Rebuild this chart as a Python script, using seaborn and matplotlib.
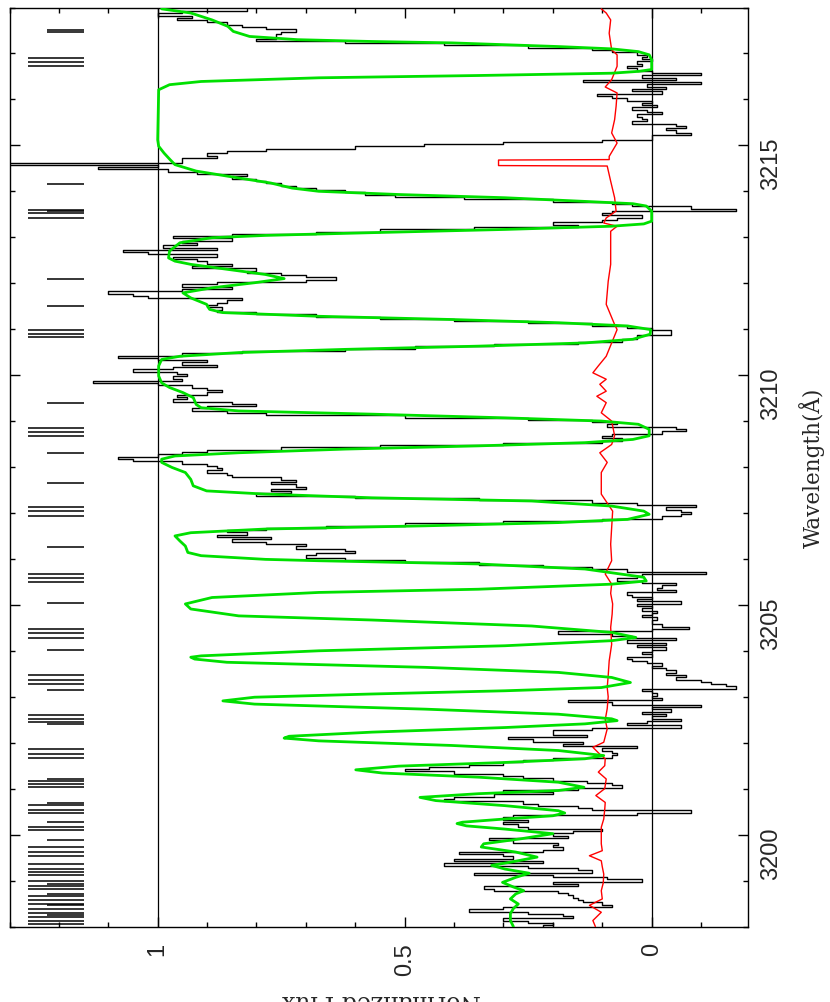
import numpy as np
import matplotlib
matplotlib.use('Agg')
import matplotlib.pyplot as plt
from matplotlib.ticker import MultipleLocator
import seaborn as sns

# observed spectrum, 0.05 A pixels starting at 3198.00
wave_start = 3198.0
pix = 0.05
flux_a = [0.22, 0.20, 0.25, 0.30, 0.16, 0.18, 0.25, 0.37, 0.30, 0.08,
          0.10, 0.14, 0.15, 0.16, 0.17, 0.19, 0.32, 0.34, 0.15, 0.20,
          0.02, 0.09, 0.20, 0.36, 0.12, 0.15, 0.25, 0.42, 0.22, 0.40,
          0.28, 0.30, 0.39, 0.22, 0.18, 0.20, 0.19, 0.28, 0.33, 0.17,
          0.20, 0.16, 0.10, 0.25, 0.27, 0.30, 0.25, 0.30, 0.28, 0.03,
          -0.08, 0.12, 0.15, 0.23, 0.26, 0.42, 0.40, 0.32, 0.20, 0.30,
          0.15, 0.06, 0.08, 0.13, 0.20, 0.26, 0.30, 0.40, 0.50, 0.45,
          0.37, 0.30, 0.26, 0.20, 0.08, 0.07, 0.08, 0.10, 0.03, 0.18,
          0.14, 0.24, 0.29, 0.13, 0.20, 0.20, 0.12, -0.06, 0.05, 0.01,
          -0.06, 0.00, -0.03, 0.02, -0.04, 0.00, -0.10, 0.08, 0.17, -0.02]
flux_b = [0.00, -0.01, 0.00, 0.02, -0.17, -0.15, -0.12, -0.10, -0.05, -0.07,
          -0.03, -0.05, -0.03, 0.00, -0.02, 0.01, 0.04, 0.05, 0.00, 0.02,
          0.00, -0.03, 0.03, -0.03, 0.05, -0.05, 0.04, 0.08, 0.19, 0.00,
          -0.075, -0.02, 0.00, 0.00, -0.01, 0.02, 0.00, -0.01, 0.02, 0.00,
          0.03, -0.06, 0.03, 0.00, 0.04, 0.05, -0.05, -0.01, -0.02, -0.05,
          0.02, 0.07, 0.03, 0.02, -0.11, 0.05, 0.12, 0.22, 0.35, 0.50,
          0.62, 0.70, 0.68, 0.60, 0.62, 0.72, 0.70, 0.78, 0.85, 0.77,
          0.88, 0.82, 0.86, 0.78, 0.66, 0.50, 0.30, 0.10, -0.02, -0.06,
          -0.08, -0.06, -0.03, -0.09, 0.03, 0.12, 0.35, 0.60, 0.80, 0.73,
          0.77, 0.70, 0.72, 0.77, 0.72, 0.75, 0.85, 0.86, 0.90, 0.87]
flux_c = [0.88, 0.90, 0.95, 1.05, 1.08, 1.00, 0.95, 0.90, 0.75, 0.55,
          0.30, 0.10, 0.06, 0.10, 0.08, -0.02, -0.07, -0.05, 0.09, 0.07,
          0.12, 0.25, 0.50, 0.78, 0.86, 0.93, 0.90, 0.80, 0.85, 0.97,
          0.94, 0.96, 0.90, 0.87, 0.90, 0.93, 1.00, 1.13, 0.95, 0.97,
          0.94, 0.96, 1.05, 0.97, 0.88, 0.95, 0.90, 1.00, 1.08, 0.95,
          0.83, 0.62, 0.48, 0.32, 0.15, 0.06, 0.03, 0.03, -0.04, -0.04,
          0.00, 0.05, 0.12, 0.25, 0.40, 0.55, 0.68, 0.80, 0.88, 0.87,
          0.90, 0.88, 0.86, 0.83, 1.02, 1.05, 1.10, 0.95, 0.85, 0.95,
          0.88, 0.70, 0.64, 0.70, 0.75, 0.82, 0.80, 0.93, 0.85, 0.90,
          0.92, 0.97, 0.88, 1.02, 1.07, 0.88, 0.99, 0.92, 0.95, 0.85]
flux_d = [0.97, 0.85, 0.68, 0.55, 0.36, 0.15, 0.20, 0.10, 0.07, 0.02,
          0.10, 0.08, -0.17, -0.08, 0.04, 0.08, 0.20, 0.38, 0.52, 0.58,
          0.62, 0.68, 0.72, 0.75, 0.78, 0.80, 0.85, 0.82, 0.92, 0.98,
          1.12, 1.00, 1.35, 0.95, 0.95, 0.88, 0.90, 0.86, 0.78, 0.60,
          0.46, 0.30, 0.10, 0.00, 0.00, -0.08, -0.05, -0.03, -0.07, -0.05,
          0.04, 0.01, 0.02, 0.03, -0.02, 0.01, 0.04, -0.01, 0.02, 0.00,
          0.05, 0.08, 0.11, -0.02, 0.04, -0.03, 0.01, -0.10, 0.14, -0.05,
          0.02, -0.10, 0.00, 0.03, 0.05, 0.02, 0.03, 0.00, 0.02, 0.01,
          0.03, 0.08, 0.12, 0.25, 0.42, 0.62, 0.80, 0.76, 0.76, 0.75,
          0.72, 0.78, 0.83, 0.86, 0.90, 0.96, 0.93, 1.00, 0.95, 0.82]

# fitted model
model_wave = [3198.00, 3198.13, 3198.28, 3198.39, 3198.49, 3198.60, 3198.71, 3198.78, 3198.86, 3198.96,
              3199.07, 3199.16, 3199.25, 3199.33, 3199.40, 3199.51, 3199.62, 3199.73, 3199.80, 3199.91,
              3200.02, 3200.12, 3200.19, 3200.24, 3200.27, 3200.34, 3200.41, 3200.47, 3200.52, 3200.63,
              3200.74, 3200.81, 3200.89, 3200.96, 3201.03, 3201.14, 3201.25, 3201.34, 3201.41, 3201.49,
              3201.57, 3201.65, 3201.72, 3201.83, 3201.94, 3202.04, 3202.10, 3202.14, 3202.23, 3202.33,
              3202.41, 3202.48, 3202.52, 3202.62, 3202.73, 3202.84, 3202.91, 3202.99, 3203.06, 3203.13,
              3203.20, 3203.31, 3203.42, 3203.53, 3203.64, 3203.75, 3203.82, 3203.86, 3203.89, 3204.00,
              3204.11, 3204.22, 3204.29, 3204.40, 3204.54, 3204.67, 3204.76, 3204.91, 3205.02, 3205.16,
              3205.27, 3205.34, 3205.45, 3205.52, 3205.60, 3205.78, 3205.89, 3205.96, 3205.99, 3206.07,
              3206.14, 3206.28, 3206.39, 3206.50, 3206.57, 3206.65, 3206.72, 3206.79, 3206.86, 3206.97,
              3207.04, 3207.15, 3207.26, 3207.33, 3207.41, 3207.48, 3207.59, 3207.73, 3207.88, 3207.99,
              3208.10, 3208.17, 3208.24, 3208.31, 3208.39, 3208.46, 3208.53, 3208.60, 3208.68, 3208.82,
              3208.93, 3209.00, 3209.07, 3209.15, 3209.22, 3209.29, 3209.36, 3209.51, 3209.62, 3209.73,
              3209.83, 3209.98, 3210.20, 3210.34, 3210.41, 3210.49, 3210.56, 3210.63, 3210.70, 3210.78,
              3210.89, 3210.99, 3211.07, 3211.14, 3211.21, 3211.28, 3211.36, 3211.43, 3211.54, 3211.68,
              3211.79, 3211.90, 3212.01, 3212.10, 3212.19, 3212.30, 3212.41, 3212.48, 3212.55, 3212.70,
              3212.88, 3212.99, 3213.04, 3213.10, 3213.17, 3213.24, 3213.29, 3213.35, 3213.57, 3213.68,
              3213.73, 3213.78, 3213.86, 3213.93, 3214.00, 3214.07, 3214.18, 3214.29, 3214.44, 3214.58,
              3214.69, 3214.83, 3214.98, 3215.12, 3216.21, 3216.32, 3216.39, 3216.47, 3216.52, 3216.57,
              3216.61, 3216.65, 3216.86, 3216.97, 3217.04, 3217.10, 3217.15, 3217.23, 3217.26, 3217.30,
              3217.37, 3217.48, 3217.59, 3217.73, 3217.88, 3217.97]
model_flux = [0.280, 0.286, 0.286, 0.280, 0.270, 0.286, 0.275, 0.259, 0.280, 0.302,
              0.275, 0.248, 0.297, 0.324, 0.286, 0.232, 0.275, 0.345, 0.340, 0.264,
              0.200, 0.297, 0.375, 0.394, 0.383, 0.297, 0.200, 0.176, 0.189, 0.297,
              0.437, 0.469, 0.351, 0.189, 0.137, 0.189, 0.351, 0.545, 0.599, 0.512,
              0.297, 0.135, 0.097, 0.189, 0.405, 0.674, 0.744, 0.734, 0.566, 0.297,
              0.135, 0.070, 0.081, 0.189, 0.458, 0.804, 0.868, 0.804, 0.566, 0.297,
              0.102, 0.043, 0.081, 0.189, 0.458, 0.860, 0.925, 0.933, 0.912, 0.674,
              0.297, 0.081, 0.032, 0.081, 0.243, 0.566, 0.836, 0.933, 0.944, 0.890,
              0.674, 0.351, 0.081, 0.011, 0.016, 0.135, 0.351, 0.674, 0.782, 0.912,
              0.939, 0.944, 0.955, 0.965, 0.933, 0.782, 0.458, 0.189, 0.049, 0.005,
              0.016, 0.081, 0.243, 0.566, 0.782, 0.901, 0.928, 0.933, 0.944, 0.971,
              0.992, 0.992, 0.965, 0.836, 0.620, 0.351, 0.135, 0.038, 0.005, 0.005,
              0.027, 0.102, 0.297, 0.566, 0.836, 0.912, 0.922, 0.928, 0.949, 0.976,
              0.992, 0.998, 0.998, 0.992, 0.955, 0.836, 0.620, 0.351, 0.135, 0.038,
              0.003, 0.002, 0.049, 0.189, 0.405, 0.674, 0.868, 0.895, 0.901, 0.933,
              0.949, 0.890, 0.804, 0.744, 0.782, 0.858, 0.933, 0.965, 0.978, 0.976,
              0.955, 0.890, 0.782, 0.566, 0.297, 0.081, 0.016, 0.000, 0.000, 0.011,
              0.038, 0.135, 0.297, 0.512, 0.674, 0.728, 0.771, 0.836, 0.922, 0.965,
              0.975, 0.987, 0.998, 1.000, 0.998, 0.976, 0.912, 0.674, 0.351, 0.081,
              0.027, 0.000, 0.000, 0.005, 0.027, 0.081, 0.189, 0.405, 0.566, 0.717,
              0.814, 0.847, 0.858, 0.890, 0.933, 0.992]

# error spectrum
err_wave = [3198.00, 3198.13, 3198.31, 3198.46, 3198.60, 3198.78, 3198.95, 3199.14, 3199.30, 3199.43,
            3199.54, 3199.65, 3199.80, 3200.02, 3200.16, 3200.34, 3200.55, 3200.70, 3200.85, 3201.00,
            3201.21, 3201.36, 3201.50, 3201.65, 3201.75, 3201.90, 3202.01, 3202.30, 3202.50, 3202.74,
            3203.00, 3203.20, 3203.46, 3203.78, 3204.14, 3204.51, 3204.80, 3205.02, 3205.25, 3205.45,
            3205.67, 3205.96, 3206.32, 3206.68, 3207.04, 3207.41, 3207.59, 3207.88, 3208.10, 3208.31,
            3208.49, 3208.68, 3209.00, 3209.18, 3209.40, 3209.54, 3209.65, 3209.80, 3209.91, 3210.05,
            3210.20, 3210.41, 3210.70, 3210.99, 3211.10, 3211.54, 3212.04, 3212.41, 3212.80, 3213.13,
            3213.24, 3213.31, 3213.42, 3213.57, 3213.86, 3214.22, 3214.55, 3214.56, 3214.68, 3214.69,
            3214.76, 3215.05, 3215.27, 3215.56, 3215.85, 3216.14, 3216.27, 3216.43, 3216.72, 3216.97,
            3217.08, 3217.44, 3217.73, 3217.88, 3217.97]
err_flux = [0.114, 0.119, 0.102, 0.126, 0.100, 0.102, 0.098, 0.097, 0.100, 0.102,
            0.126, 0.100, 0.102, 0.102, 0.102, 0.097, 0.095, 0.094, 0.113, 0.095,
            0.092, 0.108, 0.095, 0.094, 0.105, 0.119, 0.097, 0.090, 0.094, 0.090,
            0.088, 0.090, 0.088, 0.086, 0.081, 0.083, 0.080, 0.079, 0.083, 0.081,
            0.094, 0.081, 0.083, 0.081, 0.079, 0.102, 0.102, 0.102, 0.090, 0.105,
            0.081, 0.075, 0.081, 0.102, 0.092, 0.111, 0.092, 0.105, 0.092, 0.119,
            0.108, 0.092, 0.081, 0.070, 0.075, 0.092, 0.088, 0.083, 0.083, 0.083,
            0.070, 0.097, 0.092, 0.072, 0.075, 0.083, 0.090, 0.310, 0.310, 0.086,
            0.086, 0.070, 0.081, 0.075, 0.072, 0.070, 0.094, 0.081, 0.070, 0.070,
            0.081, 0.086, 0.083, 0.092, 0.102]

# component marks along the top of the spectrum
long_marks = [3216.91, 3216.81, 3216.72, 3213.60, 3213.53, 3213.42, 3210.98, 3210.90, 3210.82,
              3208.84, 3208.77, 3208.67, 3207.12, 3207.04, 3206.93, 3205.67, 3205.58, 3205.49,
              3204.47, 3204.38, 3204.28, 3203.47, 3203.36, 3203.28, 3202.60, 3202.52, 3202.44,
              3201.86, 3201.75, 3201.67, 3201.17, 3201.10, 3201.03, 3200.65, 3200.54, 3200.47,
              3200.16, 3200.09, 3199.73, 3199.62, 3199.54, 3199.35, 3199.25, 3199.18, 3199.13,
              3198.99, 3198.88, 3198.82, 3198.67, 3198.58, 3198.49, 3198.38, 3198.29, 3198.20,
              3198.13, 3198.06]
short_marks = [3217.51, 3217.46, 3214.15, 3213.58, 3212.10, 3211.51, 3209.40, 3208.31, 3207.66,
               3206.25, 3205.03, 3204.02, 3203.15, 3202.41, 3201.21, 3200.69, 3200.27, 3199.88,
               3198.93, 3198.70, 3198.46, 3198.26]

wave_ticks = [3200, 3205, 3210, 3215]
flux_ticks = [1, 0.5, 0]
flux_labels = ['1', '0.5', '0']

sns.set_style('ticks')
plt.rcParams['font.family'] = ['Liberation Sans', 'DejaVu Sans']

flux = np.array(flux_a + flux_b + flux_c + flux_d)
centers = wave_start + pix * np.arange(len(flux))
step_y = np.column_stack([centers - pix / 2, centers + pix / 2]).ravel()
step_x = np.repeat(flux, 2)

fig = plt.figure(figsize=(8.3, 10.03), dpi=100)
ax = fig.add_axes([9.5 / 830, 1 - 927.5 / 1003, 738 / 830, 919 / 1003])

ax.axvline(1, color='black', lw=0.9, zorder=1)
ax.axvline(0, color='black', lw=0.9, zorder=1)
ax.hlines(long_marks, 1.262, 1.149, color='black', lw=1.1)
ax.hlines(short_marks, 1.224, 1.149, color='black', lw=1.1)

sns.lineplot(x=step_x, y=step_y, sort=False, estimator=None, color='black', lw=1.0, ax=ax, zorder=2)
sns.lineplot(x=err_flux, y=err_wave, sort=False, estimator=None, color='#ff0000', lw=1.0, ax=ax, zorder=3)
sns.lineplot(x=model_flux, y=model_wave, sort=False, estimator=None, color='#00e000', lw=2.0, ax=ax, zorder=4)

ax.set_xlim(1.3, -0.194)
ax.set_ylim(3198, 3218)
ax.set_xticks(flux_ticks)
ax.set_xticklabels(flux_labels)
ax.set_yticks(wave_ticks)
ax.set_yticklabels([str(w) for w in wave_ticks])
ax.xaxis.set_minor_locator(MultipleLocator(0.1))
ax.yaxis.set_minor_locator(MultipleLocator(1))
ax.tick_params(which='both', direction='in', top=True, bottom=True, left=True, right=True,
               width=1.0, color='black')
ax.tick_params(which='major', length=7)
ax.tick_params(which='minor', length=3.5)
ax.tick_params(axis='y', labelleft=False, labelright=True, labelrotation=90, labelsize=17, pad=9)
ax.tick_params(axis='x', labelrotation=90, labelsize=17, pad=11)
ax.set_xlabel('')
ax.set_ylabel('')
for s in ax.spines.values():
    s.set_linewidth(1.0)
    s.set_color('black')

fig.text(820 / 830, 1 - 467.5 / 1003, 'Wavelength(Å)', rotation=90, rotation_mode='anchor',
         ha='center', va='baseline', family='DejaVu Serif', fontsize=15.5)
fig.text(381 / 830, 1 - 995 / 1003, 'Normalized Flux', rotation=180, rotation_mode='anchor',
         ha='center', va='baseline', family='DejaVu Serif', fontsize=17)

fig.savefig('out.png', dpi=100)
